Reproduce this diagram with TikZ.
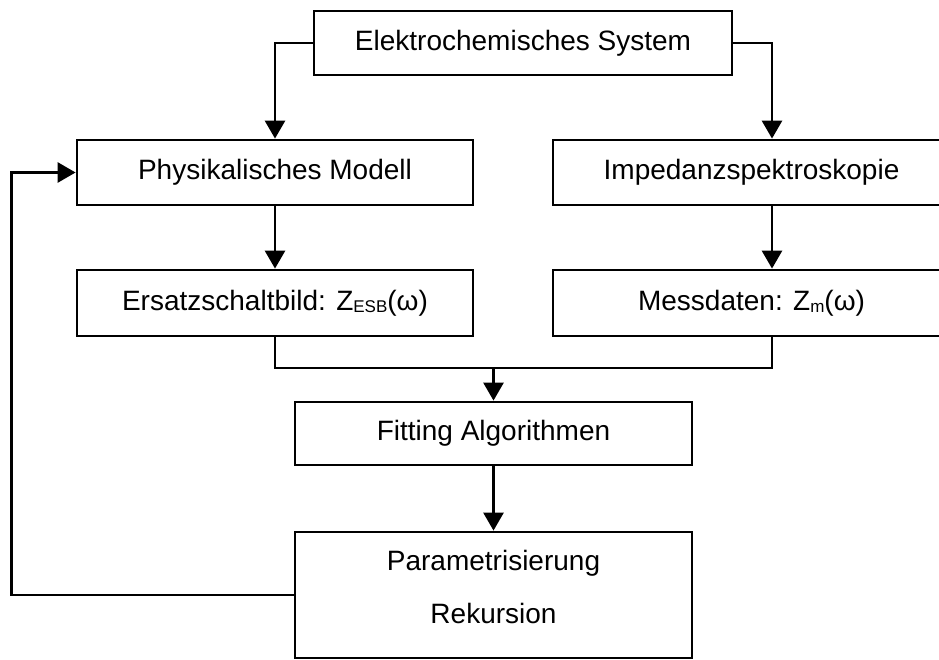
\documentclass[tikz,border=0pt]{standalone}
\usepackage{fontspec}
\setmainfont{Liberation Sans}
\usetikzlibrary{arrows.meta,calc}
\newcommand{\sub}[1]{\raisebox{-2pt}{\fontsize{17}{17}\selectfont #1}}
\begin{document}
\begin{tikzpicture}[x=1pt,y=-1pt,
  box/.style={draw=black, line width=2.8pt, rectangle, inner sep=0pt, anchor=center,
    font=\fontsize{28}{32}\selectfont},
  lbl/.style={inner sep=0pt, anchor=center, font=\fontsize{28}{32}\selectfont},
  conn/.style={line width=2.8pt, draw=black},
  arr/.style={conn, -{Triangle[width=20pt,length=18pt]}}]
\useasboundingbox (0,0) rectangle (939,660);
\clip (0,0) rectangle (939,660);
\fill[white] (0,0) rectangle (939,660);
\node[box, minimum width=418pt, minimum height=64pt] (sys) at (523,43) {\raisebox{2pt}{Elektrochemisches System}};
\node[box, minimum width=396pt, minimum height=65pt] (phys) at (275,172.5) {\raisebox{2pt}{Physikalisches Modell}};
\node[box, minimum width=397pt, minimum height=65pt] (imp) at (751.5,172.5) {\raisebox{2pt}{Impedanzspektroskopie}};
\node[box, minimum width=396pt, minimum height=66pt] (esb) at (275,303) {Ersatzschaltbild: Z\sub{ESB}(ω)};
\node[box, minimum width=397pt, minimum height=66pt] (mess) at (751.5,303) {Messdaten: Z\sub{m}(ω)};
\node[box, minimum width=397pt, minimum height=63pt] (fit) at (493.5,433.5) {Fitting Algorithmen};
\node[box, minimum width=397pt, minimum height=126pt] (param) at (493.5,595) {};
\node[lbl] (p1) at (493.5,563) {Parametrisierung};
\node[lbl] (p2) at (493.5,613) {Rekursion};
\coordinate (join) at (493.5,368);
\draw[arr] (sys.west) -| (phys.north);
\draw[arr] (sys.east) -| ([xshift=20.5pt]imp.north);
\draw[arr] (phys.south) -- (esb.north);
\draw[arr] ([xshift=20.5pt]imp.south) -- ([xshift=20.5pt]mess.north);
\draw[conn] (esb.south) |- (join) -| ([xshift=20.5pt]mess.south);
\draw[arr] (join) -- (fit.north);
\draw[arr] (fit.south) -- (param.north);
\draw[arr] (param.west) -- ++(-282,0) |- (phys.west);
\end{tikzpicture}
\end{document}
